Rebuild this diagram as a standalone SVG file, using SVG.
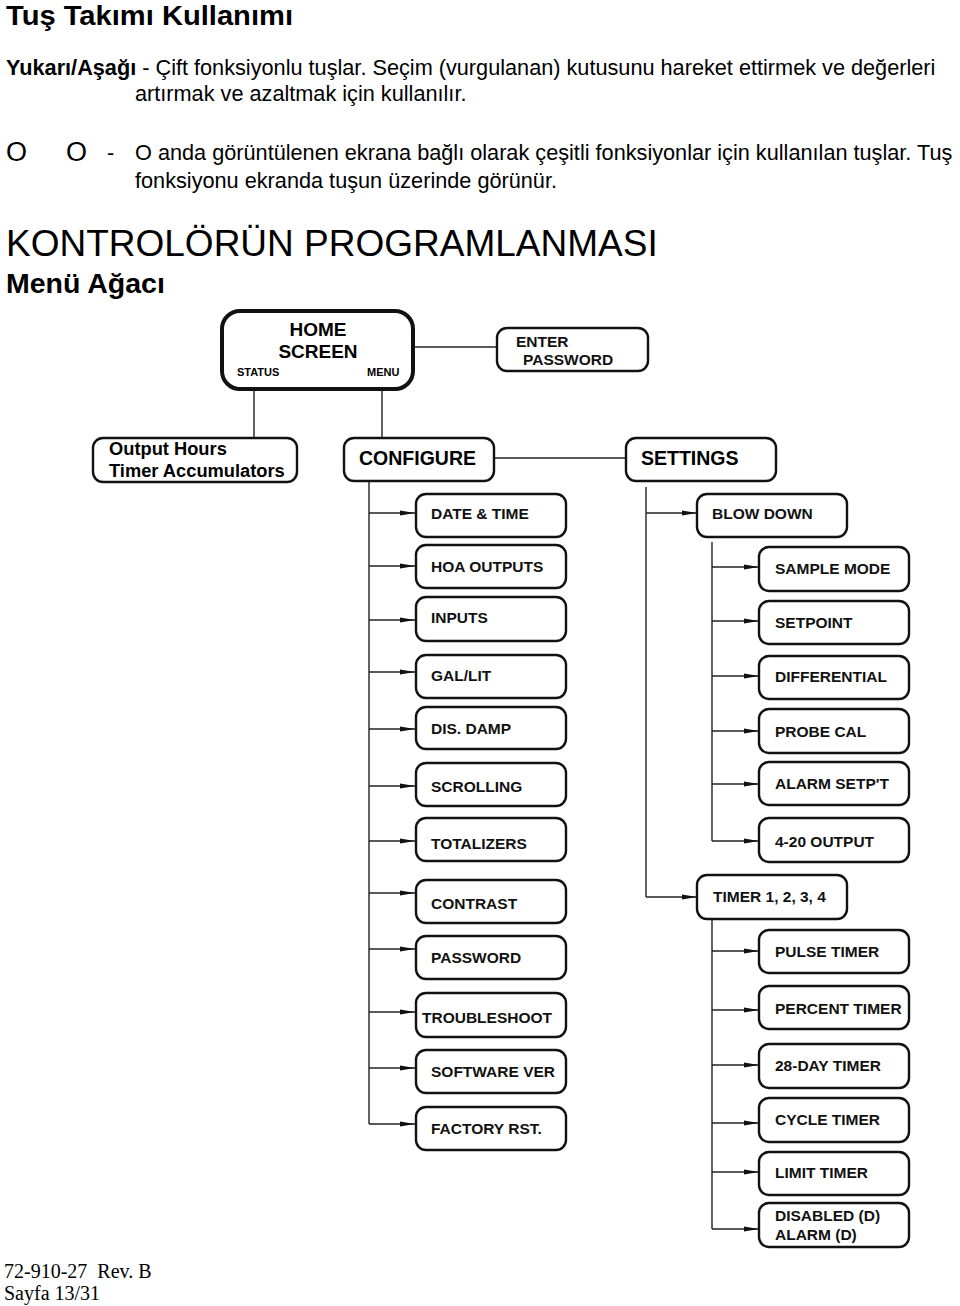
<svg xmlns="http://www.w3.org/2000/svg" width="960" height="1306" viewBox="0 0 960 1306">
<defs>
<style>
.t{font-family:"Liberation Sans",Arial,sans-serif;fill:#000}
.b{font-weight:bold}
.box{fill:#fff;stroke:#111;stroke-width:2.4}
.lbl{font-family:"Liberation Sans",Arial,sans-serif;font-weight:bold;font-size:15.5px;fill:#111}
.ln{fill:none;stroke:#222;stroke-width:1.4}
.ft{font-family:"Liberation Serif","Times New Roman",serif;font-size:20px;fill:#000}
</style>
<marker id="ah" markerUnits="userSpaceOnUse" markerWidth="16" markerHeight="8" refX="15" refY="4" orient="auto">
<path d="M0,1.6 L15,4 L0,6.4 z" fill="#111"/>
</marker>
</defs>
<rect width="960" height="1306" fill="#fff"/>
<text class="t b" x="6" y="25" font-size="28" textLength="287" lengthAdjust="spacingAndGlyphs">Tuş Takımı Kullanımı</text>
<text class="t" x="6" y="75" font-size="21.7"><tspan class="b">Yukarı/Aşağı</tspan> - Çift fonksiyonlu tuşlar. Seçim (vurgulanan) kutusunu hareket ettirmek ve değerleri</text>
<text class="t" x="135" y="101" font-size="21.7">artırmak ve azaltmak için kullanılır.</text>
<text class="t" x="6" y="161" font-size="27">O</text>
<text class="t" x="66" y="161" font-size="27">O</text>
<text class="t" x="107" y="160" font-size="21.7">-</text>
<text class="t" x="135" y="160" font-size="21.7">O anda görüntülenen ekrana bağlı olarak çeşitli fonksiyonlar için kullanılan tuşlar. Tuş</text>
<text class="t" x="135" y="188" font-size="21.7">fonksiyonu ekranda tuşun üzerinde görünür.</text>
<text class="t" x="6" y="256" font-size="37">KONTROLÖRÜN PROGRAMLANMASI</text>
<text class="t b" x="6" y="293" font-size="28.5">Menü Ağacı</text>

<g id="connectors">
<line class="ln" x1="414" y1="347" x2="497" y2="347"/>
<line class="ln" x1="254" y1="390" x2="254" y2="438"/>
<line class="ln" x1="382" y1="390" x2="382" y2="438"/>
<line class="ln" x1="494" y1="458" x2="626" y2="458"/>
<path class="ln" d="M369,481 V1124"/>
<line class="ln" x1="369" y1="513" x2="415" y2="513" marker-end="url(#ah)"/>
<line class="ln" x1="369" y1="566" x2="415" y2="566" marker-end="url(#ah)"/>
<line class="ln" x1="369" y1="620" x2="415" y2="620" marker-end="url(#ah)"/>
<line class="ln" x1="369" y1="672" x2="415" y2="672" marker-end="url(#ah)"/>
<line class="ln" x1="369" y1="729" x2="415" y2="729" marker-end="url(#ah)"/>
<line class="ln" x1="369" y1="786" x2="415" y2="786" marker-end="url(#ah)"/>
<line class="ln" x1="369" y1="841" x2="415" y2="841" marker-end="url(#ah)"/>
<line class="ln" x1="369" y1="893" x2="415" y2="893" marker-end="url(#ah)"/>
<line class="ln" x1="369" y1="949" x2="415" y2="949" marker-end="url(#ah)"/>
<line class="ln" x1="369" y1="1012" x2="415" y2="1012" marker-end="url(#ah)"/>
<line class="ln" x1="369" y1="1068" x2="415" y2="1068" marker-end="url(#ah)"/>
<path class="ln" d="M369,1124 H415" marker-end="url(#ah)"/>
<path class="ln" d="M646,487 V897"/>
<line class="ln" x1="646" y1="513" x2="697" y2="513" marker-end="url(#ah)"/>
<path class="ln" d="M646,897 H697" marker-end="url(#ah)"/>
<path class="ln" d="M712,542 V841"/>
<line class="ln" x1="712" y1="567" x2="759" y2="567" marker-end="url(#ah)"/>
<line class="ln" x1="712" y1="621" x2="759" y2="621" marker-end="url(#ah)"/>
<line class="ln" x1="712" y1="676" x2="759" y2="676" marker-end="url(#ah)"/>
<line class="ln" x1="712" y1="731" x2="759" y2="731" marker-end="url(#ah)"/>
<line class="ln" x1="712" y1="784" x2="759" y2="784" marker-end="url(#ah)"/>
<path class="ln" d="M712,841 H759" marker-end="url(#ah)"/>
<path class="ln" d="M712,919 V1229"/>
<line class="ln" x1="712" y1="951" x2="759" y2="951" marker-end="url(#ah)"/>
<line class="ln" x1="712" y1="1010" x2="759" y2="1010" marker-end="url(#ah)"/>
<line class="ln" x1="712" y1="1065" x2="759" y2="1065" marker-end="url(#ah)"/>
<line class="ln" x1="712" y1="1123" x2="759" y2="1123" marker-end="url(#ah)"/>
<line class="ln" x1="712" y1="1172" x2="759" y2="1172" marker-end="url(#ah)"/>
<path class="ln" d="M712,1229 H759" marker-end="url(#ah)"/>
</g>

<g id="home">
<rect x="222" y="311" width="191" height="78" rx="18" fill="#fff" stroke="#111" stroke-width="4"/>
<text class="t b" x="318" y="336" font-size="19" text-anchor="middle">HOME</text>
<text class="t b" x="318" y="358" font-size="19" text-anchor="middle">SCREEN</text>
<text class="t b" x="237" y="376" font-size="11">STATUS</text>
<text class="t b" x="367" y="376" font-size="11">MENU</text>
</g>
<g id="enter-password">
<rect class="box" x="497" y="328" width="151" height="43" rx="10"/>
<text class="lbl" x="516" y="347">ENTER</text>
<text class="lbl" x="523" y="365">PASSWORD</text>
</g>
<g id="output-hours">
<rect class="box" x="93" y="438" width="204" height="44" rx="10"/>
<text class="t b" x="109" y="455" font-size="18.3">Output Hours</text>
<text class="t b" x="109" y="477" font-size="18.3">Timer Accumulators</text>
</g>
<g id="configure">
<rect class="box" x="344" y="438" width="150" height="43" rx="10"/>
<text class="t b" x="359" y="465" font-size="19.5">CONFIGURE</text>
</g>
<g id="settings">
<rect class="box" x="626" y="438" width="150" height="43" rx="10"/>
<text class="t b" x="641" y="465" font-size="19.5">SETTINGS</text>
</g>

<g id="date-time"><rect class="box" x="416" y="494" width="150" height="43" rx="10"/><text class="lbl" x="431" y="519">DATE &amp; TIME</text></g>
<g id="hoa-outputs"><rect class="box" x="416" y="545" width="150" height="43" rx="10"/><text class="lbl" x="431" y="572">HOA OUTPUTS</text></g>
<g id="inputs"><rect class="box" x="416" y="597" width="150" height="44" rx="10"/><text class="lbl" x="431" y="623">INPUTS</text></g>
<g id="gal-lit"><rect class="box" x="416" y="655" width="150" height="43" rx="10"/><text class="lbl" x="431" y="681">GAL/LIT</text></g>
<g id="dis-damp"><rect class="box" x="416" y="707" width="150" height="42" rx="10"/><text class="lbl" x="431" y="734">DIS. DAMP</text></g>
<g id="scrolling"><rect class="box" x="416" y="763" width="150" height="43" rx="10"/><text class="lbl" x="431" y="792">SCROLLING</text></g>
<g id="totalizers"><rect class="box" x="416" y="818" width="150" height="43" rx="10"/><text class="lbl" x="431" y="849">TOTALIZERS</text></g>
<g id="contrast"><rect class="box" x="416" y="880" width="150" height="43" rx="10"/><text class="lbl" x="431" y="909">CONTRAST</text></g>
<g id="password"><rect class="box" x="416" y="936" width="150" height="43" rx="10"/><text class="lbl" x="431" y="963">PASSWORD</text></g>
<g id="troubleshoot"><rect class="box" x="416" y="993" width="150" height="44" rx="10"/><text class="lbl" x="422" y="1023">TROUBLESHOOT</text></g>
<g id="software-ver"><rect class="box" x="416" y="1050" width="150" height="43" rx="10"/><text class="lbl" x="431" y="1077">SOFTWARE VER</text></g>
<g id="factory-rst"><rect class="box" x="416" y="1107" width="150" height="43" rx="10"/><text class="lbl" x="431" y="1134">FACTORY RST.</text></g>

<g id="blow-down"><rect class="box" x="697" y="494" width="150" height="43" rx="10"/><text class="lbl" x="712" y="519">BLOW DOWN</text></g>
<g id="sample-mode"><rect class="box" x="759" y="547" width="150" height="44" rx="10"/><text class="lbl" x="775" y="574">SAMPLE MODE</text></g>
<g id="setpoint"><rect class="box" x="759" y="601" width="150" height="43" rx="10"/><text class="lbl" x="775" y="628">SETPOINT</text></g>
<g id="differential"><rect class="box" x="759" y="656" width="150" height="43" rx="10"/><text class="lbl" x="775" y="682">DIFFERENTIAL</text></g>
<g id="probe-cal"><rect class="box" x="759" y="709" width="150" height="44" rx="10"/><text class="lbl" x="775" y="737">PROBE CAL</text></g>
<g id="alarm-setpt"><rect class="box" x="759" y="762" width="150" height="43" rx="10"/><text class="lbl" x="775" y="789">ALARM SETP'T</text></g>
<g id="output-420"><rect class="box" x="759" y="818" width="150" height="44" rx="10"/><text class="lbl" x="775" y="847">4-20 OUTPUT</text></g>
<g id="timer"><rect class="box" x="697" y="875" width="150" height="44" rx="10"/><text class="lbl" x="713" y="902">TIMER 1, 2, 3, 4</text></g>
<g id="pulse-timer"><rect class="box" x="759" y="930" width="150" height="43" rx="10"/><text class="lbl" x="775" y="957">PULSE TIMER</text></g>
<g id="percent-timer"><rect class="box" x="759" y="986" width="150" height="43" rx="10"/><text class="lbl" x="775" y="1014">PERCENT TIMER</text></g>
<g id="day28-timer"><rect class="box" x="759" y="1044" width="150" height="44" rx="10"/><text class="lbl" x="775" y="1071">28-DAY TIMER</text></g>
<g id="cycle-timer"><rect class="box" x="759" y="1098" width="150" height="44" rx="10"/><text class="lbl" x="775" y="1125">CYCLE TIMER</text></g>
<g id="limit-timer"><rect class="box" x="759" y="1152" width="150" height="43" rx="10"/><text class="lbl" x="775" y="1178">LIMIT TIMER</text></g>
<g id="disabled-alarm"><rect class="box" x="759" y="1203" width="150" height="44" rx="10"/><text class="lbl" x="775" y="1221">DISABLED (D)</text><text class="lbl" x="775" y="1240">ALARM (D)</text></g>

<text class="ft" x="4" y="1278" xml:space="preserve">72-910-27  Rev. B</text>
<text class="ft" x="4" y="1300">Sayfa 13/31</text>
</svg>
